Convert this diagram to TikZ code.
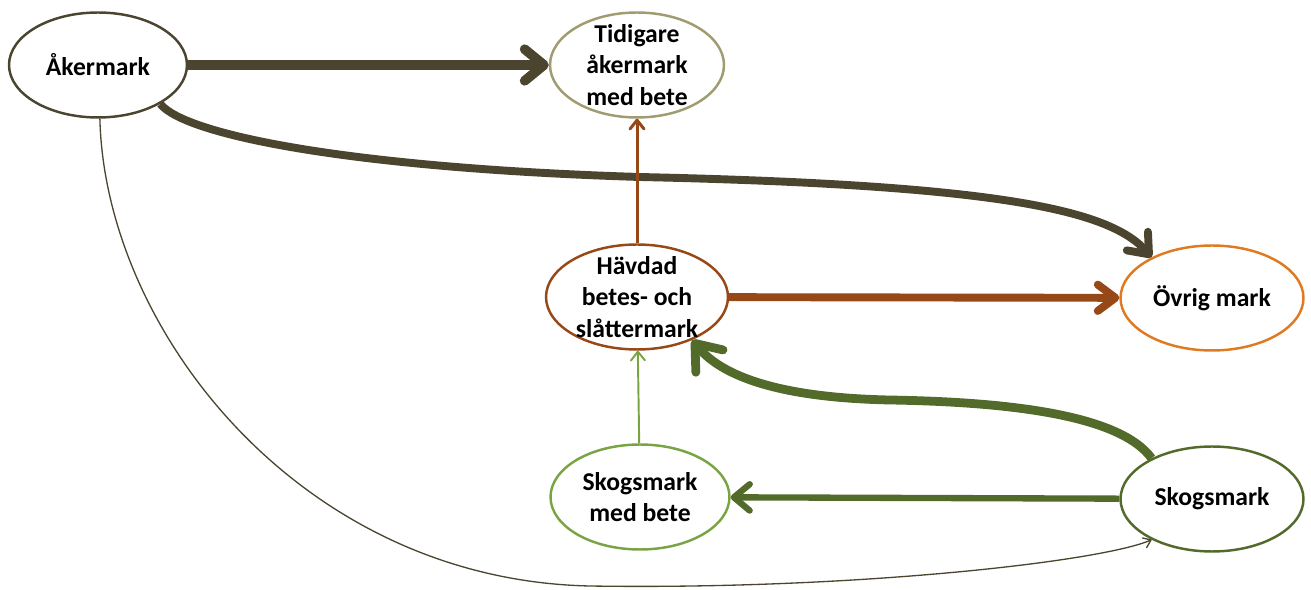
\documentclass[tikz,border=0pt]{standalone}
\usepackage{fontspec}
\setmainfont{Carlito}
\usetikzlibrary{shapes.geometric,arrows.meta}
\definecolor{akcol}{RGB}{75,69,48}
\definecolor{tidcol}{RGB}{160,155,112}
\definecolor{havcol}{RGB}{150,72,22}
\definecolor{ovrcol}{RGB}{224,122,34}
\definecolor{smbcol}{RGB}{122,164,68}
\definecolor{skocol}{RGB}{82,106,42}
\begin{document}
\begin{tikzpicture}[x=0.02cm,y=-0.02cm,
zone/.style={ellipse,draw,line width=1.4pt,minimum height=2.1cm,fill=white},
lbl/.style={align=center,inner sep=0pt,font=\fontsize{14.6}{17.8}\selectfont\bfseries},
arr/.style 2 args={-{Straight Barb[length=#1,width=#2,round]}}]
\useasboundingbox (0,0) rectangle (1311,590);
\foreach \n/\c/\w/\p/\t in {ak/akcol/3.56/{98,65}/Åkermark,
tid/tidcol/3.48/{637,65}/Tidigare\\åkermark\\med bete,
hav/havcol/3.64/{637,297}/Hävdad\\betes- och\\slåttermark,
ovr/ovrcol/3.66/{1212,298}/Övrig mark,
smb/smbcol/3.58/{640,497}/Skogsmark\\med bete,
sko/skocol/3.66/{1212,499}/Skogsmark}{
\node[zone,draw=\c,minimum width=\w cm] (\n) at (\p) {};
\node[lbl] (\n-t) at (\n) {\t};
}
\draw[akcol,line width=5.5pt,arr={11pt}{18pt}] (ak)--(tid);
\draw[akcol,line width=4.5pt,arr={10pt}{16pt}] (ak.-32) .. controls (185,135) and (350,168) .. (640,177) .. controls (1000,185) and (1110,210) .. (ovr.146);
\draw[akcol,line width=0.75pt,arr={4pt}{6pt}] (ak.-88) .. controls (105,330) and (300,580) .. (590,586) .. controls (850,590) and (1100,562) .. (sko.-146);
\draw[havcol,line width=1.7pt,arr={5pt}{8pt}] (hav)--(tid);
\draw[havcol,line width=4.5pt,arr={10pt}{15pt}] (hav)--(ovr);
\draw[smbcol,line width=1.1pt,arr={5pt}{8pt}] (smb)--(hav);
\draw[skocol,line width=5pt,arr={13pt}{20pt}] (sko.146) .. controls (1120,415) and (1010,402) .. (890,400) .. controls (790,398) and (725,380) .. (hav.-38);
\draw[skocol,line width=3.6pt,arr={9pt}{15pt}] (sko)--(smb);
\end{tikzpicture}
\end{document}
